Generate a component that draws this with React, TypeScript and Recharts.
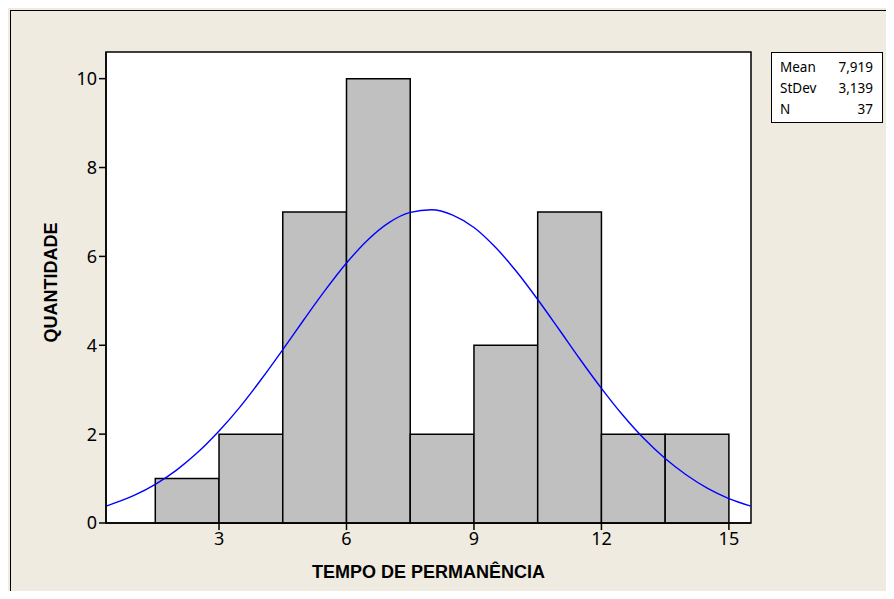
import React from 'react';
import {
  ComposedChart,
  Line,
  XAxis,
  YAxis,
  ReferenceArea,
  Label,
} from 'recharts';

// histogram bins (width 1.5) and counts
const binEdges = [1.5, 3, 4.5, 6, 7.5, 9, 10.5, 12, 13.5, 15];
const counts = [1, 2, 7, 10, 2, 4, 7, 2, 2];

// fitted normal curve, every 0.5
const curveX = [
  0.34, 1, 1.5, 2, 2.5, 3, 3.5, 4, 4.5, 5, 5.5, 6, 6.5, 7, 7.5, 8, 8.5, 9, 9.5,
  10, 10.5, 11, 11.5, 12, 12.5, 13, 13.5, 14, 14.5, 15, 15.52,
];
const curveY = [
  0.38, 0.62, 0.87, 1.19, 1.59, 2.07, 2.62, 3.24, 3.9, 4.58, 5.24, 5.85, 6.37,
  6.76, 6.99, 7.05, 6.93, 6.65, 6.21, 5.66, 5.03, 4.36, 3.68, 3.03, 2.43, 1.9,
  1.45, 1.08, 0.78, 0.55, 0.38,
];

const xTicks = [3, 6, 9, 12, 15];
const yTicks = [0, 2, 4, 6, 8, 10];
const xDomain: [number, number] = [0.34, 15.52];
const yDomain: [number, number] = [0, 10.6];

const stats = [
  ['Mean', '7,919'],
  ['StDev', '3,139'],
  ['N', '37'],
];

const curveData = curveX.map((x, i) => ({ x, y: curveY[i] }));

const BG = '#efebe1';
const tickStyle = { fill: '#000', fontSize: 18, fontFamily: 'Noto Sans' };
const titleStyle = {
  fill: '#000',
  fontSize: 18,
  fontWeight: 700,
  fontFamily: 'Liberation Sans',
};

export default function App() {
  return (
    <div
      style={{
        position: 'relative',
        width: 894,
        height: 599,
        margin: -8,
        overflow: 'hidden',
        background: BG,
      }}
    >
      {/* outer frame */}
      <div
        style={{
          position: 'absolute',
          left: 10,
          top: 10,
          width: 900,
          height: 620,
          border: '1.5px solid #000',
        }}
      />
      <div style={{ position: 'absolute', left: 0, top: 0 }}>
        <ComposedChart
          width={894}
          height={599}
          data={curveData}
          margin={{ top: 52, right: 143, bottom: 36, left: 46 }}
        >
          <XAxis
            type="number"
            dataKey="x"
            domain={xDomain}
            allowDataOverflow
            ticks={xTicks}
            tickSize={7}
            height={40}
            axisLine={{ stroke: '#000', strokeWidth: 1.5 }}
            tickLine={{ stroke: '#000', strokeWidth: 1.5 }}
            tick={tickStyle}
          >
            <Label
              value="TEMPO DE PERMANÊNCIA"
              position="insideBottom"
              offset={-15}
              style={titleStyle}
            />
          </XAxis>
          <YAxis
            type="number"
            domain={yDomain}
            ticks={yTicks}
            allowDataOverflow
            tickSize={7}
            width={60}
            axisLine={{ stroke: '#000', strokeWidth: 1.5 }}
            tickLine={{ stroke: '#000', strokeWidth: 1.5 }}
            tick={tickStyle}
          >
            <Label
              value="QUANTIDADE"
              angle={-90}
              position="insideLeft"
              offset={5}
              dy={-5}
              style={{ ...titleStyle, textAnchor: 'middle' }}
            />
          </YAxis>
          {/* plot background + frame */}
          <ReferenceArea
            x1={xDomain[0]}
            x2={xDomain[1]}
            y1={yDomain[0]}
            y2={yDomain[1]}
            fill="#ffffff"
            fillOpacity={1}
            stroke="#000"
            strokeWidth={1.5}
          />
          {counts.map((c, i) => (
            <ReferenceArea
              key={`bin-${i}`}
              x1={binEdges[i]}
              x2={binEdges[i + 1]}
              y1={0}
              y2={c}
              fill="#c0c0c0"
              fillOpacity={1}
              stroke="#000"
              strokeWidth={1.5}
            />
          ))}
          <Line
            type="monotone"
            dataKey="y"
            stroke="#0000ff"
            strokeWidth={1.4}
            dot={false}
            isAnimationActive={false}
          />
        </ComposedChart>
      </div>
      {/* stats box */}
      <div
        style={{
          position: 'absolute',
          left: 771,
          top: 52,
          width: 112,
          height: 71,
          boxSizing: 'border-box',
          border: '1px solid #000',
          background: '#fff',
          padding: '4px 9px 0 8px',
          fontFamily: 'Noto Sans',
          fontSize: 13.5,
          lineHeight: '21px',
        }}
      >
        {stats.map(([k, v]) => (
          <div key={k} style={{ display: 'flex', justifyContent: 'space-between' }}>
            <span>{k}</span>
            <span>{v}</span>
          </div>
        ))}
      </div>
    </div>
  );
}
